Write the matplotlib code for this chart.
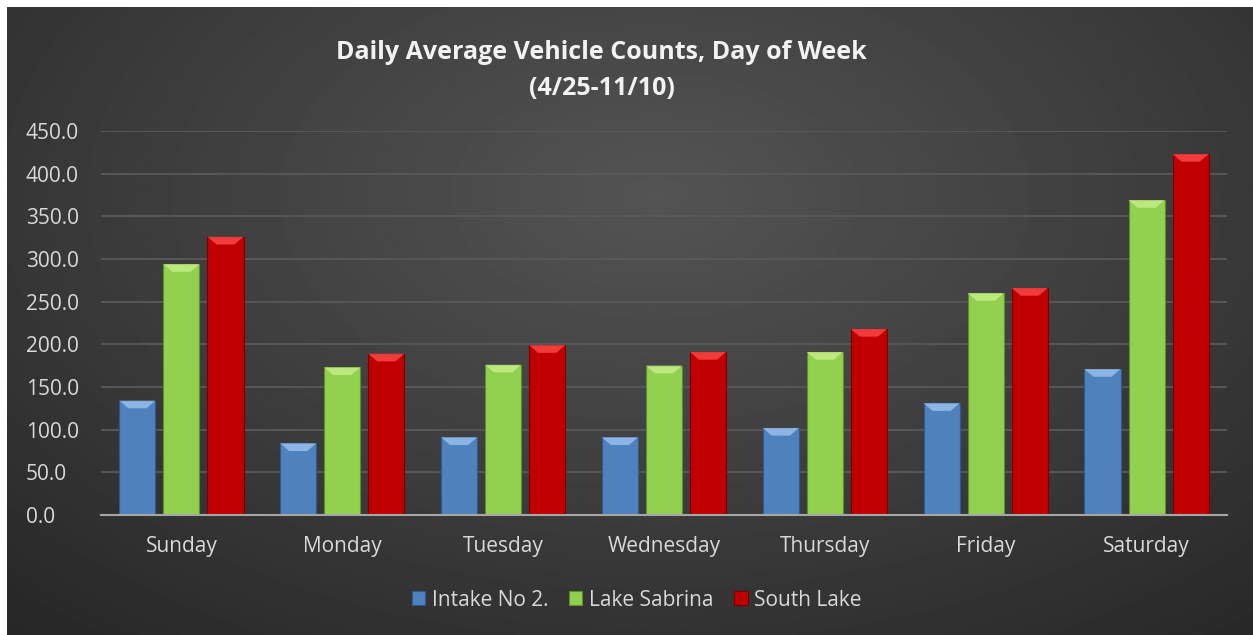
import matplotlib.pyplot as plt
import numpy as np
from matplotlib.patches import Polygon

days = ['Sunday', 'Monday', 'Tuesday', 'Wednesday', 'Thursday', 'Friday', 'Saturday']
intake = [134, 84, 91, 91, 102, 131, 171]
sabrina = [294, 173, 176, 175, 191, 260, 369]
south = [326, 189, 199, 191, 218, 266, 423]
series_names = ['Intake No 2.', 'Lake Sabrina', 'South Lake']
colors = ['#4f81bd', '#92d050', '#c00000']
tops = ['#9cc3f0', '#c6f08a', '#ff4a4a']
edges = ['#2d5a8f', '#5e8f26', '#7a0000']

plt.rcParams['font.family'] = ['Open Sans', 'DejaVu Sans']

fig = plt.figure(figsize=(12.53, 6.35), dpi=100)
fig.patch.set_facecolor('white')

# dark radial gradient background
bg = fig.add_axes([7 / 1253, 0, 1 - 7 / 1253, 1 - 7 / 635])
yy, xx = np.mgrid[0:1:300j, 0:1:600j]
r = np.sqrt(((xx - 0.52) / 0.75) ** 2 + ((yy - 0.3) / 0.9) ** 2)
img = np.clip(0.33 - 0.17 * r, 0.15, 0.33)
bg.imshow(img, cmap='gray', vmin=0, vmax=1, aspect='auto', extent=[0, 1, 0, 1])
bg.set_axis_off()

ax = fig.add_axes([101 / 1253, 120 / 635, 1126 / 1253, 384 / 635])
ax.patch.set_alpha(0)

x = np.arange(len(days))
w = 0.224
step = 0.274
for i, vals in enumerate([intake, sabrina, south]):
    xs = x + (i - 1) * step
    ax.bar(xs, vals, width=w, color=colors[i], edgecolor=edges[i], linewidth=0.8,
           label=series_names[i], zorder=3)
    # bevel highlight at the top of each bar
    for xc, v in zip(xs, vals):
        h = 9
        poly = Polygon([(xc - w / 2, v), (xc + w / 2, v), (xc + w / 4, v - h), (xc - w / 4, v - h)],
                       closed=True, facecolor=tops[i], edgecolor='none', alpha=0.8, zorder=4)
        ax.add_patch(poly)

ax.set_xlim(-0.5, len(days) - 0.5)
ax.set_ylim(0, 450)
ax.set_yticks(np.arange(0, 451, 50))
ax.set_yticklabels([f'{v:.1f}' for v in np.arange(0, 451, 50)])
ax.set_xticks(x)
ax.set_xticklabels(days)
ax.tick_params(axis='both', length=0, colors='#d9d9d9', labelsize=15)
ax.tick_params(axis='x', pad=15)
ax.tick_params(axis='y', pad=54)
for lbl in ax.get_yticklabels():
    lbl.set_horizontalalignment('left')
ax.grid(axis='y', color='#595959', linewidth=1.3, zorder=0)
for s in ['top', 'right', 'left']:
    ax.spines[s].set_visible(False)
ax.spines['bottom'].set_color('#a6a6a6')
ax.spines['bottom'].set_linewidth(1.5)
ax.spines['bottom'].set_zorder(5)

fig.text(0.48, 0.918, 'Daily Average Vehicle Counts, Day of Week', ha='center', va='center',
         color='#f2f2f2', fontsize=18, fontweight='bold')
fig.text(0.48, 0.861, '(4/25-11/10)', ha='center', va='center',
         color='#f2f2f2', fontsize=18, fontweight='bold')

leg = fig.legend(loc='center', bbox_to_anchor=(0.508, 0.055), ncol=3, frameon=False,
                 fontsize=15, handlelength=0.65, handleheight=0.65, handletextpad=0.3,
                 columnspacing=1.0)
for t in leg.get_texts():
    t.set_color('#d9d9d9')

fig.savefig('out.png', dpi=100, facecolor=fig.get_facecolor())
